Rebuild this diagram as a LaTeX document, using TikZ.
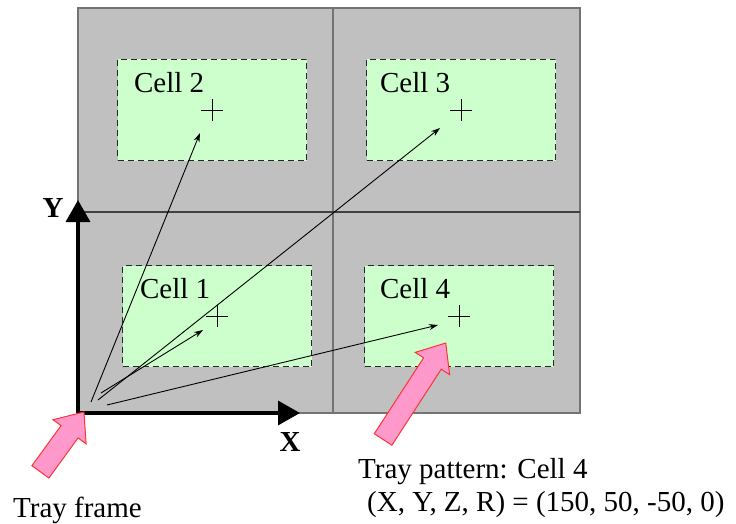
\documentclass[tikz,border=0pt]{standalone}
\usepackage{fontspec}
\setmainfont{Liberation Serif}
\usetikzlibrary{arrows.meta, calc, shapes.arrows}

\definecolor{traygray}{HTML}{C0C0C0}
\definecolor{cellgreen}{HTML}{CCFFCC}
\definecolor{pointpink}{HTML}{FF99CC}
\definecolor{pointred}{HTML}{FF3333}

\begin{document}
\begin{tikzpicture}[
        x=1pt, y=-1pt,
        font=\fontsize{29}{34}\selectfont,
        cellbox/.style={draw=black!85, fill=cellgreen, line width=1.3pt,
            dash pattern=on 6pt off 4pt, inner sep=0pt,
            minimum width=189pt, minimum height=101pt},
        cellname/.style={anchor=base west, inner sep=0pt},
        vec/.style={line width=0.9pt, -{Stealth[length=9pt,width=6pt]}},
        axis/.style={line width=3.5pt, -{Triangle[length=22pt,width=24pt]}},
        pointer/.style={single arrow, draw=pointred, fill=pointpink,
            line width=1pt, inner xsep=0pt, inner ysep=10pt,
            single arrow head extend=10pt, single arrow tip angle=80},
    ]

    \useasboundingbox (0,0) rectangle (736,524);

    \def\xleft{78}
    \def\xright{580}
    \def\ytop{8}
    \def\ybottom{413}
    \def\xmid{333}
    \def\ymid{212}

    % tray and its four quarters
    \filldraw[fill=traygray, draw=black!55, line width=1.5pt]
    (\xleft,\ytop) rectangle (\xright,\ybottom);
    \draw[black!55, line width=1.5pt] (\xmid,\ytop) -- (\xmid,\ybottom);
    \draw[black!75, line width=1.5pt] (\xleft,\ymid) -- (\xright,\ymid);

    % cells
    \node[cellbox] (cell2) at (212,110) {};
    \node[cellbox] (cell3) at (461,110) {};
    \node[cellbox] (cell1) at (217,316) {};
    \node[cellbox] (cell4) at (459,316) {};

    \foreach \n/\dx in {1/18, 2/17, 3/14, 4/16} {
        \node[cellname] (cellname\n) at ($(cell\n.north west)+(\dx,34)$) {Cell \n};
        \draw[line width=0.8pt]
        ($(cell\n.center)+(-11,0)$) -- ($(cell\n.center)+(11,0)$)
        ($(cell\n.center)+(0,-11)$) -- ($(cell\n.center)+(0,11)$);
    }

    % frame axes
    \coordinate (o) at (\xleft,\ybottom);
    \coordinate (xend) at (300,\ybottom);
    \coordinate (yend) at (\xleft,200);
    \draw[axis] (o) -- (xend);
    \draw[axis] (o) -- (yend);
    \node[font=\fontsize{29}{34}\selectfont\bfseries] (xlabel) at (290,442) {X};
    \node[font=\fontsize{29}{34}\selectfont\bfseries] (ylabel) at (53,208) {Y};

    % vectors to the cells
    \foreach \n/\sx/\sy/\ex/\ey in {2/13/-11/-12/23, 3/20/-13/-21/18,
            1/23/-20/-14/14, 4/29/-8/-21/9} {
        \draw[vec] ($(o)+(\sx,\sy)$) -- ($(cell\n.center)+(\ex,\ey)$);
    }

    % pointers and captions
    \node[pointer, rotate=54, minimum height=74pt] (framepointer) at (58.5,447) {};
    \node[pointer, rotate=57, minimum height=115pt] (cellpointer) at (411,396.5) {};

    \node[cellname] (framecaption) at (13,517) {Tray frame};
    \node[cellname] (patterncaption) at (358,478) {Tray pattern: Cell 4};
    \node[cellname] (posecaption) at (367,511) {(X, Y, Z, R) = (150, 50, -50, 0)};

\end{tikzpicture}
\end{document}
